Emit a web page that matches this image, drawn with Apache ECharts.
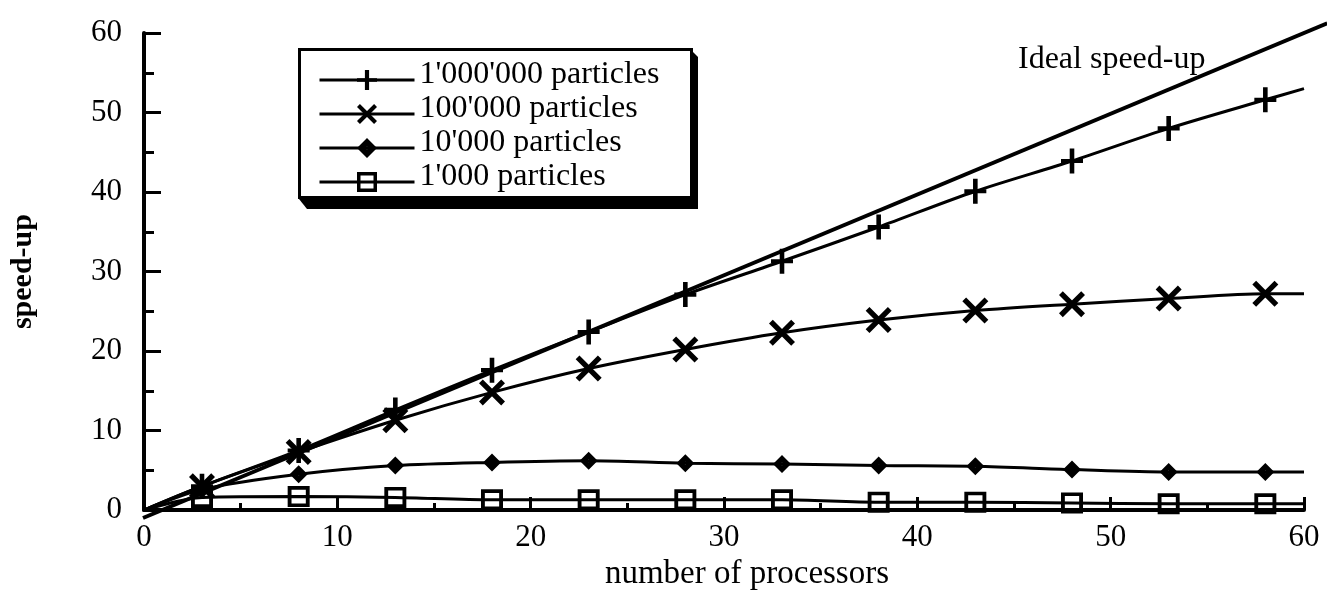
<!DOCTYPE html>
<html>
<head>
<meta charset="utf-8">
<script src="https://cdn.jsdelivr.net/npm/echarts@6/dist/echarts.min.js"></script>
<style>
  html, body { margin: 0; padding: 0; background: #fff; }
  #chart { width: 1327px; height: 596px; }
</style>
</head>
<body>
<div id="chart"></div>
<script>
// ---- data ----
var processors = [0, 3, 8, 13, 18, 23, 28, 33, 38, 43, 48, 53, 58, 60];
var speedup1M   = [0, 3.0, 7.5, 12.6, 17.6, 22.4, 27.1, 31.3, 35.6, 40.1, 43.9, 48.0, 51.6, 53.0];
var speedup100k = [0, 3.0, 7.3, 11.3, 14.8, 17.8, 20.2, 22.3, 23.9, 25.1, 25.9, 26.6, 27.2, 27.2];
var speedup10k  = [0, 2.6, 4.5, 5.6, 6.0, 6.2, 5.9, 5.8, 5.6, 5.5, 5.1, 4.8, 4.8, 4.8];
var speedup1k   = [0, 1.6, 1.7, 1.6, 1.3, 1.3, 1.3, 1.3, 1.0, 1.0, 0.9, 0.8, 0.8, 0.8];
var idealX = [0, 61.2];
var idealY = [0, 61.2];
var seriesNames = ["1'000'000 particles", "100'000 particles", "10'000 particles", "1'000 particles"];
var yTicks = [0, 10, 20, 30, 40, 50, 60];
var xTicks = [0, 10, 20, 30, 40, 50, 60];

// ---- symbols ----
var SYM_PLUS = 'path://M-2.3,-12 L2.3,-12 L2.3,-2 L11,-2 L11,2 L2.3,2 L2.3,12 L-2.3,12 L-2.3,2 L-11,2 L-11,-2 L-2.3,-2 Z';
var SYM_X = 'path://M-12,-8.5 L-8.5,-12 L12,8.5 L8.5,12 Z M8.5,-12 L12,-8.5 L-8.5,12 L-12,8.5 Z';
var SYM_DIAMOND = 'path://M0,-10 L10,0 L0,10 L-10,0 Z M0,-1.6 L-1.6,0 L0,1.6 L1.6,0 Z';
var SYM_SQUARE = 'path://M-10,-10 L10,-10 L10,10 L-10,10 Z M-6.5,-6.5 L-6.5,6.5 L6.5,6.5 L6.5,-6.5 Z';

function build(xs, ys) {
  return xs.map(function (x, i) {
    var item = { value: [x, ys[i]] };
    if (i === 0 || i === xs.length - 1) item.symbol = 'none';
    return item;
  });
}

var FONT = "'Liberation Serif', 'Times New Roman', serif";
var chart = echarts.init(document.getElementById('chart'), null, { renderer: 'canvas' });

function lineSeries(name, ys, symbol, size) {
  return {
    name: name,
    type: 'line',
    data: build(processors, ys),
    smooth: 0.3,
    symbol: symbol,
    symbolSize: size,
    showAllSymbol: true,
    lineStyle: { color: '#000', width: 3 },
    itemStyle: { color: '#000', opacity: 1 },
    emphasis: { disabled: true },
    z: 3
  };
}

// pixel scale of the main grid
var W = 1327, H = 596;
var G = { left: 143, right: 23, top: 33, bottom: 78 };
var pxX = (W - G.left - G.right) / 60;
var pxY = (H - G.top - G.bottom) / 60;
// overlay grid (same scale) that reaches the right edge, for the ideal line
var G2max = (W - G.left) / pxX;

var option = {
  backgroundColor: '#fff',
  animation: false,
  grid: [
    { left: G.left, right: G.right, top: G.top, bottom: G.bottom, containLabel: false },
    { left: G.left, right: 0, top: G.top - 2 * pxY, bottom: G.bottom, containLabel: false }
  ],
  xAxis: [{
    type: 'value',
    gridIndex: 0,
    min: 0, max: 60, interval: 10,
    name: 'number of processors',
    nameLocation: 'middle',
    nameGap: 35,
    nameTextStyle: { fontFamily: FONT, fontSize: 33, color: '#000', padding: [0, 0, 0, 46] },
    axisLine: { show: true, lineStyle: { color: '#000', width: 4 } },
    axisTick: { show: true, inside: true, length: 13, lineStyle: { color: '#000', width: 3 } },
    minorTick: { show: true, splitNumber: 2, length: 7, lineStyle: { color: '#000', width: 3 } },
    splitLine: { show: false },
    axisLabel: {
      fontFamily: FONT, fontSize: 31, color: '#000', margin: 12,
      formatter: function (v) { return xTicks.indexOf(v) >= 0 ? String(v) : ''; }
    }
  }, {
    type: 'value', gridIndex: 1, min: 0, max: G2max, show: false
  }],
  yAxis: [{
    type: 'value',
    gridIndex: 0,
    min: 0, max: 60, interval: 10,
    name: 'speed-up',
    nameLocation: 'middle',
    nameGap: 106,
    nameRotate: 90,
    nameTextStyle: { fontFamily: FONT, fontSize: 30, fontWeight: 'bold', color: '#000' },
    axisLine: { show: true, lineStyle: { color: '#000', width: 4 } },
    axisTick: { show: true, inside: true, length: 17, lineStyle: { color: '#000', width: 3 } },
    minorTick: { show: true, splitNumber: 2, length: 10, lineStyle: { color: '#000', width: 3 } },
    splitLine: { show: false },
    axisLabel: {
      fontFamily: FONT, fontSize: 31, color: '#000', margin: 22, padding: [0, 0, 16, 0],
      formatter: function (v) { return yTicks.indexOf(v) >= 0 ? String(v) : ''; }
    }
  }, {
    type: 'value', gridIndex: 1, min: 0, max: 62, show: false
  }],
  legend: {
    data: seriesNames,
    orient: 'vertical',
    left: 318,
    top: 59,
    padding: 0,
    itemWidth: 95,
    itemHeight: 25,
    itemGap: -8,
    selectedMode: false,
    lineStyle: { width: 3 },
    formatter: function (name) { return '{t|' + name + '}'; },
    textStyle: {
      color: '#000',
      rich: { t: { fontFamily: FONT, fontSize: 32, color: '#000', lineHeight: 22, padding: [0, 0, 10, 0] } }
    },
    z: 6
  },
  graphic: [
    {
      type: 'polygon',
      shape: { points: [[690, 49], [698, 57], [698, 209], [307, 209], [299, 199]] },
      style: { fill: '#000' },
      z: 4
    },
    {
      type: 'rect',
      shape: { x: 299.5, y: 49.5, width: 392, height: 148 },
      style: { fill: '#fff', stroke: '#000', lineWidth: 3 },
      z: 5
    },
    {
      type: 'text',
      x: 1018, y: 60,
      style: { text: 'Ideal speed-up', font: '32px ' + FONT, fill: '#000', verticalAlign: 'middle', align: 'left' },
      z: 10
    }
  ],
  series: [
    {
      name: 'Ideal speed-up',
      type: 'line',
      xAxisIndex: 1, yAxisIndex: 1,
      data: idealX.map(function (x, i) { return [x, idealY[i]]; }),
      symbol: 'none',
      lineStyle: { color: '#000', width: 4 },
      emphasis: { disabled: true },
      z: 2
    },
    lineSeries(seriesNames[0], speedup1M, SYM_PLUS, [22, 25]),
    lineSeries(seriesNames[1], speedup100k, SYM_X, 26),
    lineSeries(seriesNames[2], speedup10k, SYM_DIAMOND, 18),
    lineSeries(seriesNames[3], speedup1k, SYM_SQUARE, [22, 21])
  ]
};
chart.setOption(option);
</script>
</body>
</html>
